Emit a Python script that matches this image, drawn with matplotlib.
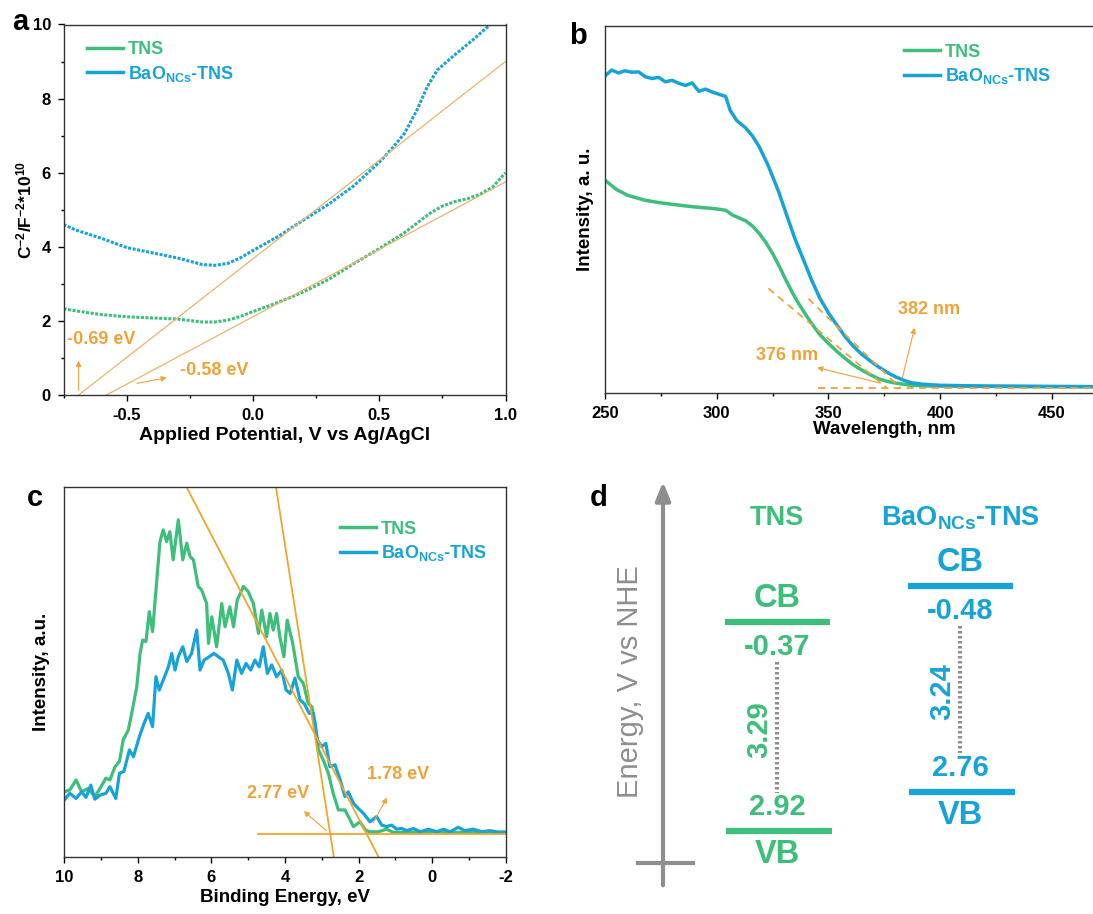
import numpy as np
import matplotlib
matplotlib.use("Agg")
import matplotlib.pyplot as plt
from matplotlib.lines import Line2D
from matplotlib.ticker import MultipleLocator, FixedLocator

plt.rcParams['font.family'] = ['Liberation Sans', 'DejaVu Sans']
plt.rcParams['font.weight'] = 'bold'
plt.rcParams['axes.labelweight'] = 'bold'
plt.rcParams['axes.unicode_minus'] = False
plt.rcParams['mathtext.fontset'] = 'custom'
plt.rcParams['mathtext.rm'] = 'Liberation Sans:bold'
plt.rcParams['mathtext.it'] = 'Liberation Sans:bold'
plt.rcParams['mathtext.bf'] = 'Liberation Sans:bold'
plt.rcParams['mathtext.default'] = 'bf'

GREEN = '#3dbe7b'
BLUE = '#18a3d6'
ORANGE = '#eea33a'
GRAY = '#8e8e8e'
LABEL_BAO = r'BaO$_{\mathbf{NCs}}$-TNS'

# ---- panel a: Mott-Schottky ----
pot_tns = [-0.75, -0.7, -0.6, -0.5, -0.4, -0.3, -0.2, -0.15, -0.1, -0.05, 0.0, 0.1,
           0.2, 0.3, 0.4, 0.5, 0.6, 0.7, 0.75, 0.8, 0.85, 0.9, 0.95, 1.0]
ms_tns = [2.33, 2.27, 2.17, 2.11, 2.08, 2.05, 1.97, 1.97, 2.02, 2.12, 2.25, 2.5,
          2.78, 3.12, 3.55, 3.95, 4.38, 4.9, 5.1, 5.22, 5.3, 5.42, 5.62, 6.0]
pot_bao = [-0.75, -0.7, -0.6, -0.5, -0.4, -0.3, -0.2, -0.15, -0.1, -0.05, 0.0, 0.1,
           0.2, 0.3, 0.4, 0.5, 0.55, 0.6, 0.65, 0.69, 0.73, 0.79, 0.87, 0.94, 0.97]
ms_bao = [4.6, 4.45, 4.23, 3.98, 3.84, 3.7, 3.52, 3.5, 3.55, 3.7, 3.9, 4.28,
          4.72, 5.15, 5.65, 6.28, 6.65, 7.06, 7.7, 8.32, 8.77, 9.13, 9.58, 10.0, 10.25]
fb_x0 = [-0.69, -0.58]          # flat band intercepts
fb_y1 = [9.0, 5.75]             # tangent value at 1.0 V

# ---- panel b: UV-vis ----
wl_tns = [250, 255, 260, 268, 275, 283, 290, 298, 304, 307, 313, 316, 319, 322, 325,
          328, 331, 334, 336.6, 340, 342.5, 346, 350, 354, 357.5, 361, 365, 369,
          372.4, 376, 380, 387, 395, 420, 450, 480, 500]
abs_tns = [0.58, 0.555, 0.539, 0.525, 0.518, 0.512, 0.507, 0.503, 0.498, 0.485, 0.469,
           0.455, 0.435, 0.41, 0.38, 0.345, 0.307, 0.272, 0.244, 0.212, 0.189, 0.16,
           0.135, 0.112, 0.094, 0.077, 0.062, 0.049, 0.039, 0.032, 0.027, 0.021, 0.019,
           0.018, 0.017, 0.017, 0.017]
wl_bao = [250, 253, 256, 259, 262, 265, 268, 271, 274, 277, 280, 283, 286, 289, 292,
          295, 298, 301, 304, 306, 309, 313, 316, 319, 323, 327.6, 331, 335, 339,
          342.5, 346, 350, 354, 357.5, 361, 365, 369, 372.4, 376, 380, 384, 387, 392,
          400, 420, 450, 480, 500]
abs_bao = [0.864, 0.88, 0.872, 0.878, 0.874, 0.875, 0.862, 0.857, 0.86, 0.848, 0.852,
           0.844, 0.838, 0.845, 0.822, 0.828, 0.82, 0.814, 0.808, 0.77, 0.742, 0.722,
           0.7, 0.671, 0.62, 0.55, 0.49, 0.42, 0.36, 0.307, 0.26, 0.218, 0.183, 0.153,
           0.128, 0.105, 0.086, 0.071, 0.057, 0.044, 0.034, 0.028, 0.024, 0.021, 0.019,
           0.018, 0.017, 0.017]
edge_nm = [376, 382]
edge_start = [(323.1, 0.285), (341.0, 0.257)]
uv_base = 0.0145

# ---- panel c: XPS valence band ----
be_tns = [10.0, 9.85, 9.68, 9.53, 9.35, 9.17, 9.03, 8.87, 8.76, 8.62, 8.5, 8.4, 8.26,
          8.14, 8.03, 7.94, 7.87, 7.78, 7.69, 7.6, 7.4, 7.31, 7.22, 7.13, 7.04, 6.9,
          6.78, 6.67, 6.58, 6.49, 6.36, 6.27, 6.13, 6.08, 5.99, 5.86, 5.72, 5.63, 5.5,
          5.4, 5.3, 5.13, 5.0, 4.86, 4.72, 4.63, 4.5, 4.41, 4.32, 4.23, 4.14, 4.03,
          3.94, 3.79, 3.64, 3.5, 3.37, 3.27, 3.18, 3.09, 2.96, 2.82, 2.69, 2.55, 2.37,
          2.23, 2.14, 1.96, 1.82, 1.69, 1.46, 1.24, 1.05, 0.42, -0.03, -0.49, -0.94,
          -1.39, -2.0]
xps_tns = [0.177, 0.182, 0.209, 0.177, 0.186, 0.164, 0.186, 0.214, 0.209, 0.245, 0.259,
           0.317, 0.344, 0.403, 0.461, 0.551, 0.587, 0.583, 0.664, 0.61, 0.853, 0.885,
           0.853, 0.88, 0.804, 0.912, 0.804, 0.849, 0.813, 0.804, 0.732, 0.723, 0.686,
           0.578, 0.65, 0.569, 0.686, 0.623, 0.677, 0.623, 0.695, 0.732, 0.718, 0.686,
           0.605, 0.668, 0.596, 0.659, 0.614, 0.659, 0.596, 0.542, 0.641, 0.578, 0.488,
           0.47, 0.416, 0.407, 0.362, 0.29, 0.263, 0.227, 0.173, 0.128, 0.128, 0.101,
           0.083, 0.096, 0.074, 0.069, 0.069, 0.076, 0.067, 0.068, 0.069, 0.067, 0.068,
           0.067, 0.068]
be_bao = [10.0, 9.85, 9.68, 9.53, 9.41, 9.28, 9.17, 9.03, 8.87, 8.76, 8.6, 8.5, 8.38,
          8.23, 8.12, 7.96, 7.83, 7.72, 7.6, 7.51, 7.42, 7.29, 7.17, 7.08, 6.99, 6.9,
          6.78, 6.67, 6.54, 6.4, 6.31, 6.2, 6.06, 5.93, 5.81, 5.68, 5.54, 5.43, 5.31,
          5.18, 5.06, 4.93, 4.82, 4.7, 4.59, 4.48, 4.36, 4.23, 4.09, 3.97, 3.86, 3.73,
          3.59, 3.48, 3.34, 3.23, 3.12, 3.0, 2.89, 2.78, 2.64, 2.5, 2.37, 2.28, 2.14,
          2.01, 1.87, 1.69, 1.51, 1.37, 1.24, 1.1, 0.96, 0.83, 0.69, 0.51, 0.33, 0.1,
          -0.12, -0.31, -0.49, -0.71, -0.89, -1.12, -1.35, -1.57, -1.8, -2.0]
xps_bao = [0.155, 0.173, 0.159, 0.177, 0.162, 0.195, 0.157, 0.168, 0.173, 0.191, 0.159,
           0.227, 0.232, 0.29, 0.272, 0.326, 0.362, 0.389, 0.353, 0.488, 0.452, 0.484,
           0.515, 0.551, 0.506, 0.542, 0.569, 0.529, 0.551, 0.614, 0.506, 0.533, 0.542,
           0.551, 0.542, 0.533, 0.497, 0.452, 0.533, 0.497, 0.524, 0.506, 0.533, 0.515,
           0.569, 0.497, 0.52, 0.488, 0.506, 0.452, 0.443, 0.484, 0.425, 0.416, 0.389,
           0.389, 0.317, 0.299, 0.308, 0.245, 0.25, 0.209, 0.164, 0.177, 0.146, 0.132,
           0.119, 0.096, 0.11, 0.087, 0.083, 0.087, 0.076, 0.078, 0.072, 0.078, 0.069,
           0.076, 0.069, 0.076, 0.069, 0.081, 0.072, 0.076, 0.069, 0.072, 0.068, 0.068]
vb_edges = [2.77, 1.78]
vb_top = [4.245, 6.674]   # binding energy where each tangent leaves the top
xps_base = 0.063

# ---- panel d: band positions ----
materials = ['TNS', LABEL_BAO]
mat_colors = [GREEN, BLUE]
cb_pos = [-0.37, -0.48]
vb_pos = [2.92, 2.76]
gaps = ['3.29', '3.24']
level_shift = [0.0, -0.46]   # schematic vertical offset of each column
col_x = [217, 400]

W, H = 1093, 914
fig = plt.figure(figsize=(W / 100, H / 100), dpi=100)


def box(l, t, r, b):
    return [l / W, 1 - b / H, (r - l) / W, (b - t) / H]


def style_axes(ax, size=12):
    for s in ax.spines.values():
        s.set_linewidth(1.0)
        s.set_color('#333333')
    ax.tick_params(which='major', length=4, width=1.0, labelsize=size, pad=5)
    ax.tick_params(which='minor', length=2.5, width=1.0)


def legend(ax, anchor, size=13):
    handles = [Line2D([], [], color=GREEN, lw=2.5), Line2D([], [], color=BLUE, lw=2.5)]
    leg = ax.legend(handles, ['TNS', LABEL_BAO], loc='upper left', bbox_to_anchor=anchor,
                    frameon=False, fontsize=size, handlelength=2.0, handletextpad=0.25,
                    labelspacing=0.3, borderpad=0, borderaxespad=0)
    for t, c in zip(leg.get_texts(), [GREEN, BLUE]):
        t.set_color(c)


def arrow(ax, tip, tail):
    ax.annotate('', xy=tip, xytext=tail,
                arrowprops=dict(arrowstyle='-|>', color=ORANGE, lw=0.8, mutation_scale=8))


# panel a
ax = fig.add_axes(box(63.5, 24.5, 505.5, 395))
ax.plot(pot_tns, ms_tns, color=GREEN, lw=2.2, ls=(0, (1, 0.5)))
ax.plot(pot_bao, ms_bao, color=BLUE, lw=2.2, ls=(0, (1, 0.5)))
for x0, y1 in zip(fb_x0, fb_y1):
    ax.plot([x0, 1.0], [0, y1], color='#e9b46a', lw=0.9)
ax.set_xlim(-0.75, 1.0)
ax.set_ylim(0, 10)
ax.xaxis.set_major_locator(MultipleLocator(0.5))
ax.xaxis.set_minor_locator(MultipleLocator(0.25))
ax.yaxis.set_major_locator(MultipleLocator(2))
ax.yaxis.set_minor_locator(MultipleLocator(1))
style_axes(ax)
ax.set_xlabel('Applied Potential, V vs Ag/AgCl', fontsize=14, labelpad=3)
ax.set_ylabel(r'C$^{-2}$/F$^{-2}$*10$^{10}$', fontsize=12.5, labelpad=0)
ax.yaxis.set_label_coords(-0.066, 0.5)
arrow(ax, (fb_x0[0], 1.0), (fb_x0[0], 0.05))
ax.text(-0.737, 1.5, f'{fb_x0[0]:.2f} eV', color=ORANGE, fontsize=13, va='center')
arrow(ax, (-0.33, 0.48), (-0.47, 0.3))
ax.text(-0.29, 0.67, f'{fb_x0[1]:.2f} eV', color=ORANGE, fontsize=13, va='center')
legend(ax, (0.053, 0.955))

# panel b
px_nm = (1052 - 605) / 200
ax = fig.add_axes(box(605, 26, 605 + 250 * px_nm, 393))
ax.plot(wl_tns, abs_tns, color=GREEN, lw=2.5)
ax.plot(wl_bao, abs_bao, color=BLUE, lw=2.5)
for (x0, y0), xe in zip(edge_start, edge_nm):
    ax.plot([x0, xe], [y0, uv_base], color=ORANGE, lw=1.3, ls=(0, (4, 3)))
ax.plot([345.5, 500], [uv_base, uv_base], color=ORANGE, lw=1.3, ls=(0, (4, 3)))
ax.set_xlim(250, 500)
ax.set_ylim(0, 1)
ax.set_yticks([])
ax.xaxis.set_major_locator(FixedLocator([250, 300, 350, 400, 450]))
ax.xaxis.set_minor_locator(FixedLocator([275, 325, 375, 425, 475]))
style_axes(ax)
ax.set_xlabel('Wavelength, nm', fontsize=13.5, labelpad=0)
ax.set_ylabel('Intensity, a. u.', fontsize=13.5, labelpad=8)
arrow(ax, (343.7, 0.071), (374.6, 0.025))
ax.text(331.6, 0.103, f'{edge_nm[0]} nm', color=ORANGE, fontsize=13, ha='center', va='center')
arrow(ax, (388.8, 0.185), (382.8, 0.035))
ax.text(394.8, 0.227, f'{edge_nm[1]} nm', color=ORANGE, fontsize=13, ha='center', va='center')
legend(ax, (0.535, 0.952))

# panel c
ax = fig.add_axes(box(64.3, 487.3, 505.7, 857.3))
ax.plot(be_tns, xps_tns, color=GREEN, lw=2.3)
ax.plot(be_bao, xps_bao, color=BLUE, lw=2.3)
for e0, e1 in zip(vb_edges, vb_top):
    # tangent through (edge, baseline) and (e1, top), extended to the bottom
    slope = (1.0 - xps_base) / (e1 - e0)
    eb = e0 - xps_base / slope
    ax.plot([eb, e1], [0.0, 1.0], color='#efa62a', lw=1.3)
ax.plot([4.725, -2.0], [xps_base, xps_base], color='#efa62a', lw=1.3)
ax.set_xlim(10, -2)
ax.set_ylim(0, 1)
ax.set_yticks([])
ax.xaxis.set_major_locator(MultipleLocator(2))
ax.xaxis.set_minor_locator(MultipleLocator(1))
style_axes(ax)
ax.set_xlabel('Binding Energy, eV', fontsize=13.5, labelpad=3)
ax.set_ylabel('Intensity, a.u.', fontsize=13.5, labelpad=10)
arrow(ax, (3.545, 0.13), (2.82, 0.067))
ax.text(4.18, 0.173, f'{vb_edges[0]:.2f} eV', color=ORANGE, fontsize=13, ha='center', va='center')
arrow(ax, (1.19, 0.168), (1.64, 0.087))
ax.text(0.92, 0.224, f'{vb_edges[1]:.2f} eV', color=ORANGE, fontsize=13, ha='center', va='center')
legend(ax, (0.625, 0.91))

# panel d
ax = fig.add_axes(box(560, 460, 1093, 914))
ax.set_xlim(0, 533)
ax.set_ylim(4.228, -2.921)
ax.axis('off')
ax.annotate('', xy=(103, -2.62), xytext=(103, 3.82),
            arrowprops=dict(arrowstyle='-|>,head_width=0.45,head_length=1.1',
                            color=GRAY, lw=3))
ax.plot([78, 133], [3.425, 3.425], color=GRAY, lw=3)
ax.text(70, 0.575, 'Energy, V vs NHE', rotation=90, color=GRAY, fontsize=21,
        fontweight='normal', ha='center', va='center')
for name, c, cb, vb, g, sh, cx in zip(materials, mat_colors, cb_pos, vb_pos, gaps,
                                      level_shift, col_x):
    ycb, yvb = cb + sh, vb + sh
    ax.text(cx, -2.0, name, color=c, fontsize=19.5, ha='center', va='center')
    ax.plot([cx - 52, cx + 53], [ycb, ycb], color=c, lw=4.5, solid_capstyle='butt')
    ax.plot([cx - 51, cx + 55], [yvb, yvb], color=c, lw=4.5, solid_capstyle='butt')
    ax.text(cx, ycb - 0.37, 'CB', color=c, fontsize=23.5, ha='center', va='center')
    ax.text(cx, ycb + 0.4, f'{cb:.2f}', color=c, fontsize=21, ha='center', va='center')
    ax.text(cx, yvb - 0.37, f'{vb:.2f}', color=c, fontsize=21, ha='center', va='center')
    ax.text(cx, yvb + 0.37, 'VB', color=c, fontsize=23.5, ha='center', va='center')
    ax.plot([cx, cx], [ycb + 0.63, yvb - 0.6], color=GRAY, lw=3, ls=(0, (0.6, 0.6)))
    ax.text(cx - 18, (ycb + yvb) / 2 + 0.05, g, color=c, fontsize=21, rotation=90,
            ha='center', va='center')

for letter, x, y in [('a', 20, 22), ('b', 578, 36), ('c', 35, 498), ('d', 599, 498)]:
    fig.text(x / W, 1 - y / H, letter, fontsize=21, ha='center', va='center')

fig.savefig('out.png', dpi=100)
